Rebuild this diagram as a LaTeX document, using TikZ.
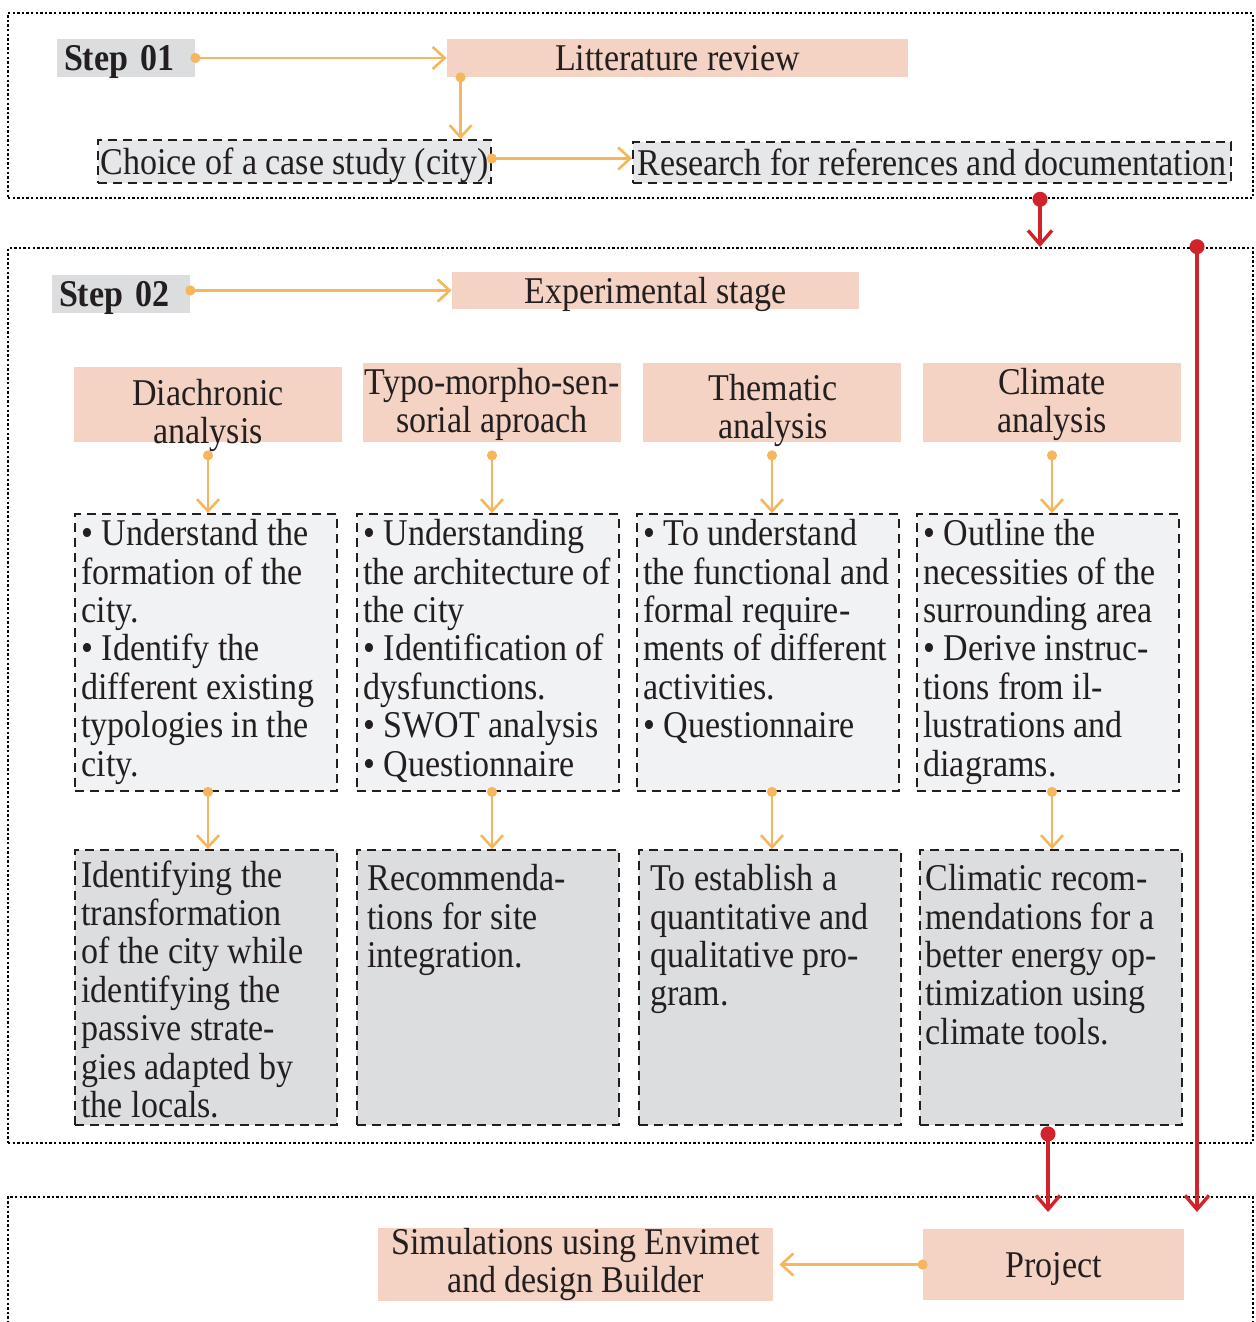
\documentclass[tikz,border=0pt]{standalone}
\usepackage{fontspec}
\setmainfont[FakeStretch=0.9]{Liberation Serif}
\usetikzlibrary{arrows.meta}

\definecolor{salmon}{HTML}{F5D3C4}
\definecolor{lightgrey}{HTML}{F1F2F3}
\definecolor{midgrey}{HTML}{DCDDDF}
\definecolor{labelgrey}{HTML}{E6E7E8}
\definecolor{orangeline}{HTML}{F6B65E}
\definecolor{redline}{HTML}{D2232A}
\definecolor{inkgrey}{HTML}{231F20}

\newcommand\diagfont{\fontsize{18.9pt}{19.2pt}\selectfont}

\tikzset{
  stepframe/.style={draw=black, line width=1.3pt, dash pattern=on 1.2pt off 1.1pt,
    minimum width=622.5pt, inner sep=0pt},
  steplabel/.style={fill=midgrey, font=\diagfont\bfseries, text width=62pt, align=left,
    minimum height=19pt, inner xsep=3.5pt, inner ysep=0pt, text depth=0pt},
  pinkbox/.style={fill=salmon, align=center, inner sep=0pt},
  dashbox/.style={draw=inkgrey, dash pattern=on 4.5pt off 3pt, line width=0.9pt, inner sep=0pt},
  boxtext/.style={anchor=north west, align=left, inner sep=0pt},
  headtext/.style={align=center, inner sep=0pt},
  oarrow/.style={draw=orangeline, line width=1.3pt, shorten <=-2.5pt,
    {Circle[length=5pt]}-{Straight Barb[length=6pt,width=11pt]}},
  rarrow/.style={draw=redline, line width=1.7pt, shorten <=-3.75pt,
    {Circle[length=7.5pt]}-{Straight Barb[length=7pt,width=12pt]}}
}

\begin{document}
\begin{tikzpicture}[x=0.5pt,y=-0.5pt,font=\diagfont,text=inkgrey]
  \useasboundingbox (0,0) rectangle (1255,1322);
  % frames
  \node[stepframe, minimum height=92.5pt] (fr1) at (630.5,105.5) {};
  \node[stepframe, minimum height=447.5pt] (fr2) at (630.5,695.5) {};
  \node[stepframe, minimum height=73pt] (fr3) at (630.5,1270) {};

  % step 01
  \node[steplabel] (s1) at (126,58) {Step 01};
  \node[pinkbox, minimum width=230.5pt, minimum height=19pt] (lit) at (677.5,58) {Litterature review};
  \node[dashbox, fill=labelgrey, minimum width=196.5pt, minimum height=21.5pt, text depth=0pt] (case) at (294.5,161.5) {Choice of a case study (city)};
  \node[dashbox, fill=labelgrey, minimum width=299pt, minimum height=20.5pt, text depth=0pt] (docs) at (932,162.5) {Research for references and documentation};
  \draw[oarrow] (s1.east) -- (lit.west);
  \draw[oarrow] ([xshift=7pt]lit.south west) -- ([xshift=7pt]lit.south west |- case.north);
  \draw[oarrow] ([yshift=1.5pt]case.east) -- ([yshift=1.5pt]case.east -| docs.west);

  % step 02
  \node[steplabel] (s2) at (121,294) {Step 02};
  \node[pinkbox, minimum width=203.5pt, minimum height=18.5pt, text depth=0pt] (exp) at (655.5,290.5) {Experimental stage};
  \draw[oarrow] (s2.east |- exp.west) -- (exp.west);

  \node[pinkbox, minimum width=134pt, minimum height=37.5pt] (dia) at (208,404.5) {};
  \node[pinkbox, minimum width=129pt, minimum height=39.5pt] (typo) at (492,402.5) {};
  \node[pinkbox, minimum width=129pt, minimum height=39.5pt] (them) at (772,402.5) {};
  \node[pinkbox, minimum width=129pt, minimum height=39.5pt] (clim) at (1052,402.5) {};
  \node[headtext] (diat) at (208,415.5) {Diachronic\\analysis};
  \node[headtext] (typot) at (492,404.5) {Typo-morpho-sen-\\sorial aproach};
  \node[headtext] (themt) at (773,410.5) {Thematic\\analysis};
  \node[headtext] (climt) at (1052,404.5) {Climate\\analysis};

  \node[dashbox, fill=lightgrey, minimum width=131pt, minimum height=138.5pt] (dia2) at (206,652.5) {};
  \node[dashbox, fill=lightgrey, minimum width=131pt, minimum height=138.5pt] (typo2) at (488,652.5) {};
  \node[dashbox, fill=lightgrey, minimum width=131pt, minimum height=138.5pt] (them2) at (768,652.5) {};
  \node[dashbox, fill=lightgrey, minimum width=131pt, minimum height=138.5pt] (clim2) at (1048,652.5) {};
  \node[boxtext] (dia2t) at ([xshift=3.5pt,yshift=-3pt]dia2.north west)
    {• Understand the\\formation of the\\city.\\• Identify the\\different existing\\typologies in the\\city.};
  \node[boxtext] (typo2t) at ([xshift=3.5pt,yshift=-3pt]typo2.north west)
    {• Understanding\\the architecture of\\the city\\• Identification of\\dysfunctions.\\• SWOT analysis\\• Questionnaire};
  \node[boxtext] (them2t) at ([xshift=3.5pt,yshift=-3pt]them2.north west)
    {• To understand\\the functional and\\formal require-\\ments of different\\activities.\\• Questionnaire};
  \node[boxtext] (clim2t) at ([xshift=3.5pt,yshift=-3pt]clim2.north west)
    {• Outline the\\necessities of the\\surrounding area\\• Derive instruc-\\tions from il-\\lustrations and\\diagrams.};

  \node[dashbox, fill=midgrey, minimum width=131pt, minimum height=137.5pt] (dia3) at (206,987.5) {};
  \node[dashbox, fill=midgrey, minimum width=131pt, minimum height=137.5pt] (typo3) at (488,987.5) {};
  \node[dashbox, fill=midgrey, minimum width=131pt, minimum height=137.5pt] (them3) at (770,987.5) {};
  \node[dashbox, fill=midgrey, minimum width=131pt, minimum height=137.5pt] (clim3) at (1051,987.5) {};
  \node[boxtext] (dia3t) at ([xshift=3.5pt,yshift=-5.5pt]dia3.north west)
    {Identifying the\\transformation\\of the city while\\identifying the\\passive strate-\\gies adapted by\\the locals.};
  \node[boxtext] (typo3t) at ([xshift=5.5pt,yshift=-7.5pt]typo3.north west)
    {Recommenda-\\tions for site\\integration.};
  \node[boxtext] (them3t) at ([xshift=6pt,yshift=-7.5pt]them3.north west)
    {To establish a\\quantitative and\\qualitative pro-\\gram.};
  \node[boxtext] (clim3t) at ([xshift=3pt,yshift=-7.5pt]clim3.north west)
    {Climatic recom-\\mendations for a\\better energy op-\\timization using\\climate tools.};

  \draw[oarrow] ([yshift=-6.5pt]dia.south) -- (dia.south |- dia2.north);
  \draw[oarrow] ([yshift=-6.5pt]typo.south) -- (typo.south |- typo2.north);
  \draw[oarrow] ([yshift=-6.5pt]them.south) -- (them.south |- them2.north);
  \draw[oarrow] ([yshift=-6.5pt]clim.south) -- (clim.south |- clim2.north);
  \draw[oarrow] (dia.south |- dia2.south) -- (dia.south |- dia3.north);
  \draw[oarrow] (typo.south |- typo2.south) -- (typo.south |- typo3.north);
  \draw[oarrow] (them.south |- them2.south) -- (them.south |- them3.north);
  \draw[oarrow] (clim.south |- clim2.south) -- (clim.south |- clim3.north);

  % project
  \node[pinkbox, minimum width=130.5pt, minimum height=35.5pt, text depth=0pt] (proj) at (1053.5,1264.5) {Project};
  \node[pinkbox, minimum width=197.5pt, minimum height=35.5pt] (sim) at (575.5,1264.5) {Simulations using Envimet\\and design Builder};
  \draw[oarrow] (proj.west) -- ([xshift=3pt]sim.east);

  % red links
  \coordinate (r1tip) at (1040,247);
  \coordinate (r2tip) at (1197,1212);
  \coordinate (r3tip) at (1048,1212);
  \draw[rarrow] (fr1.south -| r1tip) -- (r1tip);
  \draw[rarrow] (fr2.north -| r2tip) -- (r2tip);
  \draw[rarrow] ([yshift=-4pt]clim3.south -| r3tip) -- (r3tip);
\end{tikzpicture}
\end{document}
